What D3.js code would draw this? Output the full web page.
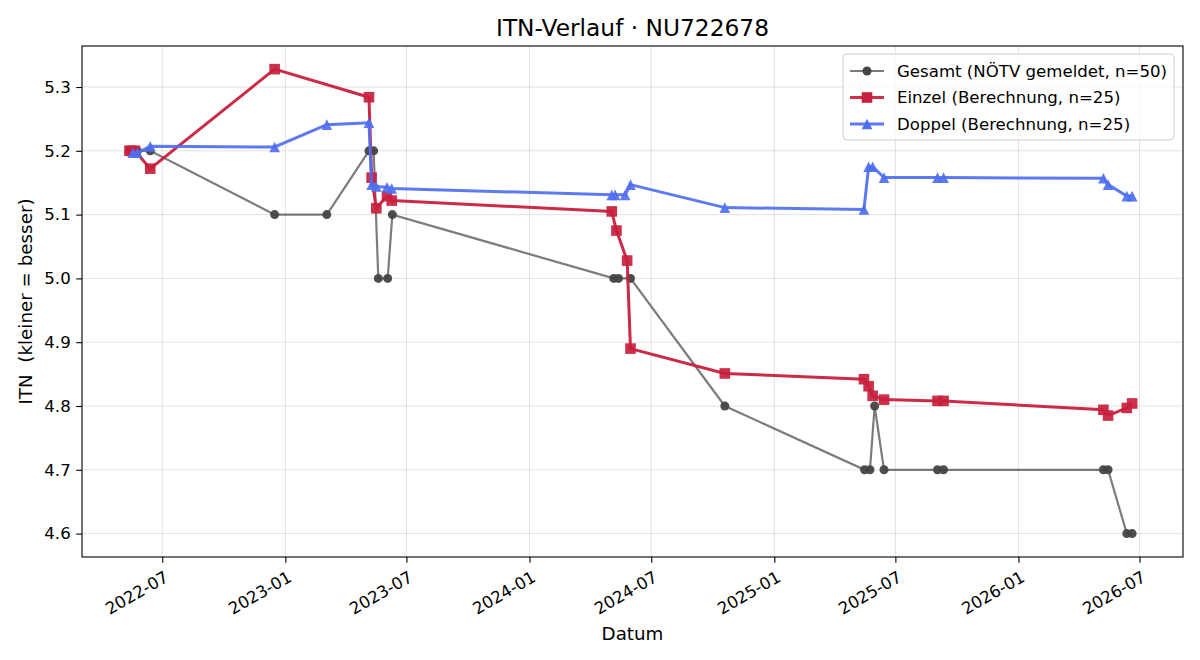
<!DOCTYPE html>
<html><head><meta charset="utf-8">
<script src="https://cdn.jsdelivr.net/npm/d3@7"></script>
<style>
body{margin:0;background:#fff;}
svg text{font-family:"DejaVu Sans",sans-serif;fill:#000;}
</style></head>
<body>
<svg id="c" width="1200" height="660"></svg>
<script>
const title = "ITN-Verlauf · NU722678";
const xLabel = "Datum";
const yLabel = "ITN  (kleiner = besser)";
const seriesNames = ["Gesamt (NÖTV gemeldet, n=50)", "Einzel (Berechnung, n=25)", "Doppel (Berechnung, n=25)"];

const gesamtDates = ["2022-05-13","2022-05-18","2022-05-25","2022-06-13","2022-12-16","2023-03-04","2023-05-06","2023-05-13","2023-05-20","2023-06-03","2023-06-10","2024-05-06","2024-05-13","2024-05-31","2024-10-19","2025-05-16","2025-05-24","2025-05-31","2025-06-14","2025-09-02","2025-09-11","2026-05-08","2026-05-15","2026-06-12","2026-06-20"];
const gesamtValues = [5.2,5.2,5.2,5.2,5.1,5.1,5.2,5.2,5.0,5.0,5.1,5.0,5.0,5.0,4.8,4.7,4.7,4.8,4.7,4.7,4.7,4.7,4.7,4.6,4.6];

const einzelDates = ["2022-05-13","2022-05-16","2022-05-21","2022-06-13","2022-12-16","2023-05-06","2023-05-10","2023-05-17","2023-06-02","2023-06-09","2024-05-03","2024-05-10","2024-05-26","2024-05-31","2024-10-19","2025-05-15","2025-05-22","2025-05-28","2025-06-14","2025-09-02","2025-09-11","2026-05-08","2026-05-15","2026-06-12","2026-06-20"];
const einzelValues = [5.200,5.200,5.200,5.172,5.328,5.284,5.158,5.110,5.129,5.122,5.105,5.075,5.028,4.890,4.851,4.842,4.831,4.816,4.810,4.808,4.808,4.794,4.785,4.797,4.804];

const doppelDates = ["2022-05-18","2022-05-25","2022-06-13","2022-12-16","2023-03-04","2023-05-06","2023-05-10","2023-05-17","2023-06-02","2023-06-09","2024-05-03","2024-05-08","2024-05-23","2024-05-31","2024-10-19","2025-05-15","2025-05-22","2025-05-28","2025-06-14","2025-09-02","2025-09-11","2026-05-08","2026-05-15","2026-06-12","2026-06-20"];
const doppelValues = [5.197,5.197,5.207,5.206,5.241,5.244,5.147,5.144,5.143,5.141,5.131,5.131,5.131,5.147,5.111,5.108,5.175,5.175,5.158,5.158,5.158,5.157,5.147,5.129,5.129];

const xTicks = ["2022-07-01","2023-01-01","2023-07-01","2024-01-01","2024-07-01","2025-01-01","2025-07-01","2026-01-01","2026-07-01"];
const yTicks = [4.6,4.7,4.8,4.9,5.0,5.1,5.2,5.3];

const parse = d3.utcParse("%Y-%m-%d");
const fmt = d3.utcFormat("%Y-%m");
const L = 82, R = 1183, T = 46, B = 557;
const svg = d3.select("#c");
const x = d3.scaleUtc().domain([parse("2022-03-03"), parse("2026-09-04")]).range([L, R]);
const y = d3.scaleLinear().domain([4.5633, 5.3643]).range([B, T]);

// grid
const grid = svg.append("g");
xTicks.forEach(t => grid.append("line").attr("x1", x(parse(t))).attr("x2", x(parse(t))).attr("y1", T).attr("y2", B)
  .attr("stroke", "#b0b0b0").attr("stroke-opacity", 0.35).attr("stroke-width", 1));
yTicks.forEach(t => grid.append("line").attr("x1", L).attr("x2", R).attr("y1", y(t)).attr("y2", y(t))
  .attr("stroke", "#b0b0b0").attr("stroke-opacity", 0.35).attr("stroke-width", 1));

// axes
const xAxis = svg.append("g").attr("transform", `translate(0,${B})`)
  .call(d3.axisBottom(x).tickValues(xTicks.map(parse)).tickFormat(fmt).tickSize(5.8).tickPadding(4));
xAxis.select(".domain").remove();
xAxis.selectAll("line").attr("stroke", "#000").attr("stroke-width", 1.1);
xAxis.selectAll(".tick text").each(function(){
  const t = d3.select(this);
  t.attr("font-size", "16.6px").attr("text-anchor", "end")
   .attr("y", null).attr("dy", null).attr("dx", null).attr("dominant-baseline", "hanging")
   .attr("transform", "translate(1,13) rotate(-30)");
});

const yAxis = svg.append("g").attr("transform", `translate(${L},0)`)
  .call(d3.axisLeft(y).tickValues(yTicks).tickFormat(d3.format(".1f")).tickSize(5.8).tickPadding(5.5));
yAxis.select(".domain").remove();
yAxis.selectAll("line").attr("stroke", "#000").attr("stroke-width", 1.1);
yAxis.selectAll("text").attr("font-size", "16.6px");

// series
const mk = (dates, vals) => dates.map((d, i) => ({d: parse(d), v: vals[i]}));
const gData = mk(gesamtDates, gesamtValues);
const eData = mk(einzelDates, einzelValues);
const dData = mk(doppelDates, doppelValues);
const line = d3.line().x(p => x(p.d)).y(p => y(p.v));
const plot = svg.append("g");

const triPath = (s) => { const h = s/2; return `M0,${-h}L${h},${h}L${-h},${h}Z`; };

const gCol = "#444444", eCol = "#c8203c", dCol = "#4f6ff0";
// Gesamt
plot.append("path").datum(gData).attr("d", line).attr("fill", "none").attr("stroke", gCol).attr("stroke-opacity", 0.7).attr("stroke-width", 2.2);
plot.selectAll(".gp").data(gData).join("circle").attr("cx", p => x(p.d)).attr("cy", p => y(p.v)).attr("r", 4.5)
  .attr("fill", gCol).attr("fill-opacity", 0.95);
// Einzel
plot.append("path").datum(eData).attr("d", line).attr("fill", "none").attr("stroke", eCol).attr("stroke-opacity", 0.95).attr("stroke-width", 3);
plot.selectAll(".ep").data(eData).join("rect").attr("x", p => x(p.d) - 5.3).attr("y", p => y(p.v) - 5.3)
  .attr("width", 10.6).attr("height", 10.6).attr("fill", eCol).attr("fill-opacity", 0.92);
// Doppel
plot.append("path").datum(dData).attr("d", line).attr("fill", "none").attr("stroke", dCol).attr("stroke-opacity", 0.92).attr("stroke-width", 3);
plot.selectAll(".dp").data(dData).join("path").attr("d", triPath(10.6))
  .attr("transform", p => `translate(${x(p.d)},${y(p.v)})`).attr("fill", dCol).attr("fill-opacity", 0.92);

// frame
svg.append("rect").attr("x", L).attr("y", T).attr("width", R - L).attr("height", B - T)
  .attr("fill", "none").attr("stroke", "#000").attr("stroke-width", 1.1);

// title & labels
svg.append("text").attr("x", (L + R) / 2).attr("y", 36).attr("text-anchor", "middle").attr("font-size", "23.3px").text(title);
svg.append("text").attr("x", (L + R) / 2).attr("y", 640).attr("text-anchor", "middle").attr("font-size", "18.3px").text(xLabel);
svg.append("text").attr("transform", `translate(32,${(T + B) / 2}) rotate(-90)`).attr("text-anchor", "middle")
  .attr("font-size", "18.3px").style("white-space", "pre").text(yLabel);

// legend
const lg = svg.append("g");
lg.append("rect").attr("x", 843).attr("y", 54).attr("width", 331).attr("height", 86).attr("rx", 4)
  .attr("fill", "#fff").attr("fill-opacity", 0.8).attr("stroke", "#cccccc").attr("stroke-width", 1);
const ly = [71, 97.5, 124];
const cols = [gCol, eCol, dCol];
seriesNames.forEach((n, i) => {
  lg.append("line").attr("x1", 850).attr("x2", 884).attr("y1", ly[i]).attr("y2", ly[i])
    .attr("stroke", cols[i]).attr("stroke-width", i === 0 ? 2.2 : 3).attr("stroke-opacity", i === 0 ? 0.7 : 0.92);
  if (i === 0) lg.append("circle").attr("cx", 867).attr("cy", ly[i]).attr("r", 4.5).attr("fill", gCol);
  if (i === 1) lg.append("rect").attr("x", 867 - 5.3).attr("y", ly[i] - 5.3).attr("width", 10.6).attr("height", 10.6).attr("fill", eCol);
  if (i === 2) lg.append("path").attr("d", triPath(10.6)).attr("transform", `translate(867,${ly[i]})`).attr("fill", dCol);
  lg.append("text").attr("x", 897).attr("y", ly[i]).attr("dy", "0.35em").attr("font-size", "16.6px").text(n);
});
</script>
</body></html>
